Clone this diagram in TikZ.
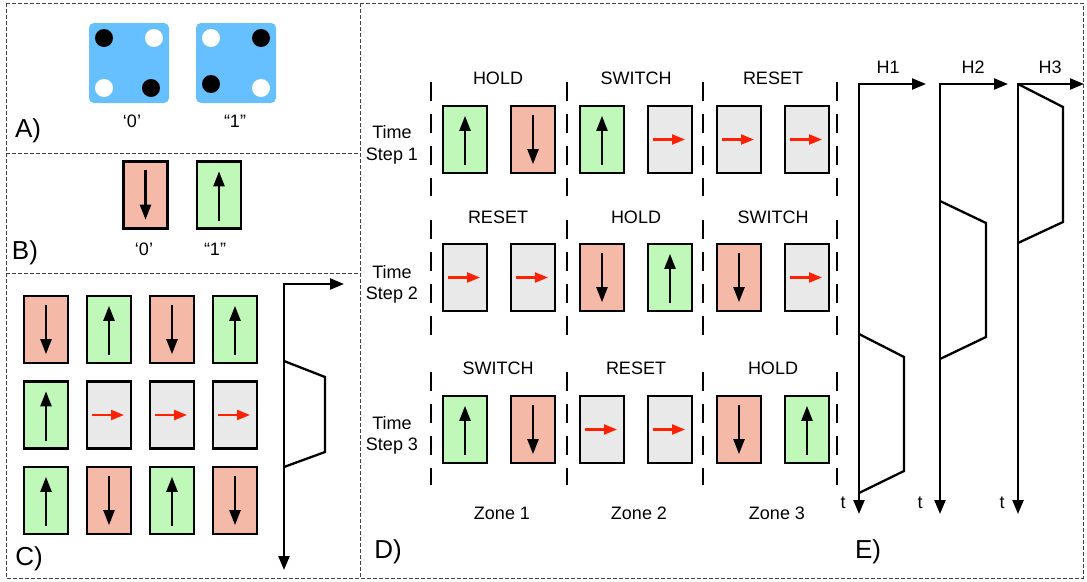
\documentclass[tikz,border=0pt]{standalone}
\usepackage{fontspec}
\setmainfont{Liberation Sans}
\usetikzlibrary{arrows.meta}
\definecolor{cblue}{RGB}{102,191,255}
\definecolor{cred}{RGB}{245,186,167}
\definecolor{cgreen}{RGB}{192,248,186}
\definecolor{cgray}{RGB}{233,233,233}
\definecolor{carrow}{RGB}{255,34,0}
\tikzset{
 cellbox/.style={draw=black,line width=2.3pt,minimum width=44pt,minimum height=67pt,inner sep=0pt},
 blk/.style={line width=2.3pt,-{Triangle[length=15pt,width=11pt]}},
 redarr/.style={draw=carrow,line width=2.2pt,-{Triangle[length=13pt,width=10pt]}},
 zoneline/.style={line width=2.5pt,dash pattern=on 19pt off 13pt},
 axisarr/.style={line width=2.3pt,line join=miter,{Triangle[length=14pt,width=11pt]}-{Triangle[length=14pt,width=11pt]}},
 wave/.style={line width=2.3pt,line join=miter},
 lbl/.style={font=\fontsize{18}{21}\selectfont,inner sep=0pt,anchor=base},
 panel/.style={font=\fontsize{26}{30}\selectfont,inner sep=0pt,anchor=base},
 border/.style={line width=0.8pt,dash pattern=on 4pt off 2pt,draw=black!75},
 die/.style={fill=cblue,rounded corners=5pt,minimum size=80pt,inner sep=0pt},
}
\newcommand\cellU[3]{\node[cellbox,fill=cgreen] (#1) at (#2,#3) {};
 \draw[blk] ([yshift=9pt]#1.south) -- ([yshift=-11pt]#1.north);}
\newcommand\cellD[3]{\node[cellbox,fill=cred] (#1) at (#2,#3) {};
 \draw[blk] ([yshift=-10pt]#1.north) -- ([yshift=10pt]#1.south);}
\newcommand\cellR[3]{\node[cellbox,fill=cgray] (#1) at (#2,#3) {};
 \draw[redarr] ([xshift=-17pt]#1.center) -- ([xshift=15pt]#1.center);}
\begin{document}
\begin{tikzpicture}[x=1pt,y=-1pt]
\useasboundingbox (0,0) rectangle (1087,581);
% borders
\draw[border] (6,3) rectangle (1083,578);
\draw[border] (360,3) -- (360,578);
\draw[border] (6,153) -- (360,153);
\draw[border] (6,273) -- (360,273);
% Panel A
\node[die] (d0) at (129,63) {};
\node[die] (d1) at (236,63) {};
\fill[black] (104,38) circle (9pt);
\fill[white] (154,38) circle (9pt);
\fill[white] (104,88) circle (9pt);
\fill[black] (151,88) circle (9pt);
\fill[white] (211,38) circle (9pt);
\fill[black] (261,38) circle (9pt);
\fill[black] (211,84) circle (9pt);
\fill[white] (261,88) circle (9pt);
\node[lbl] (a0) at (132,127) {‘0’};
\node[lbl] (a1) at (235,127) {“1”};
\node[panel] (pa) at (28,137) {A)};
% Panel B
\cellD{b0}{145.5}{195}
\cellU{b1}{219}{195}
\node[lbl] (bl0) at (144,255) {‘0’};
\node[lbl] (bl1) at (215,255) {“1”};
\node[panel] (pb) at (25,259) {B)};
% Panel C
\cellD{c11}{46}{329.5}
\cellU{c12}{109}{329.5}
\cellD{c13}{172}{329.5}
\cellU{c14}{235}{329.5}
\cellU{c21}{46}{415}
\cellR{c22}{109}{415}
\cellR{c23}{172}{415}
\cellR{c24}{235}{415}
\cellU{c31}{46}{500.5}
\cellD{c32}{109}{500.5}
\cellU{c33}{172}{500.5}
\cellD{c34}{235}{500.5}
\coordinate (co) at (284,284);
\coordinate (cx) at (344,284);
\coordinate (ct) at (284,570);
\draw[axisarr] (cx) -- (co) -- (ct);
\draw[wave] (284,361) -- (325,377) -- (325,452) -- (284,467);
\node[panel] (pc) at (29,565) {C)};
% Panel D dashed zone lines
\foreach \x in {431,567,703,837}{
 \draw[zoneline] (\x,82) -- (\x,196);
 \draw[zoneline] (\x,220) -- (\x,335);
 \draw[zoneline] (\x,372) -- (\x,485);
}
% row 1
\node[lbl] (h11) at (498,84) {HOLD};
\node[lbl] (h12) at (636,84) {SWITCH};
\node[lbl] (h13) at (773,84) {RESET};
\node[lbl] (t1a) at (392,138) {Time};
\node[lbl] (t1b) at (392,160) {Step 1};
\cellU{d11}{465}{139.5}
\cellD{d12}{533}{139.5}
\cellU{d13}{602}{139.5}
\cellR{d14}{670}{139.5}
\cellR{d15}{739}{139.5}
\cellR{d16}{807}{139.5}
% row 2
\node[lbl] (h21) at (498,223) {RESET};
\node[lbl] (h22) at (636,223) {HOLD};
\node[lbl] (h23) at (773,223) {SWITCH};
\node[lbl] (t2a) at (392,278) {Time};
\node[lbl] (t2b) at (392,299) {Step 2};
\cellR{d21}{465}{277.5}
\cellR{d22}{533}{277.5}
\cellD{d23}{602}{277.5}
\cellU{d24}{670}{277.5}
\cellD{d25}{739}{277.5}
\cellR{d26}{807}{277.5}
% row 3
\node[lbl] (h31) at (498,374) {SWITCH};
\node[lbl] (h32) at (636,374) {RESET};
\node[lbl] (h33) at (773,374) {HOLD};
\node[lbl] (t3a) at (392,429) {Time};
\node[lbl] (t3b) at (392,450) {Step 3};
\cellU{d31}{465}{429.5}
\cellD{d32}{533}{429.5}
\cellR{d33}{602}{429.5}
\cellR{d34}{670}{429.5}
\cellD{d35}{739}{429.5}
\cellU{d36}{807}{429.5}
\node[lbl] (z1) at (502,519) {Zone 1};
\node[lbl] (z2) at (639,519) {Zone 2};
\node[lbl] (z3) at (777,519) {Zone 3};
\node[panel] (pd) at (388,558) {D)};
% Panel E
\coordinate (e1o) at (859,84);
\coordinate (e1x) at (926,84);
\coordinate (e1t) at (859,514);
\coordinate (e2o) at (940,84);
\coordinate (e2x) at (1008,84);
\coordinate (e2t) at (940,514);
\coordinate (e3o) at (1018,84);
\coordinate (e3x) at (1084,84);
\coordinate (e3t) at (1018,514);
\draw[axisarr] (e1x) -- (e1o) -- (e1t);
\draw[axisarr] (e2x) -- (e2o) -- (e2t);
\draw[axisarr] (e3x) -- (e3o) -- (e3t);
\draw[wave] (859,334) -- (904,357) -- (904,471) -- (859,493);
\draw[wave] (940,201) -- (986,223) -- (986,337) -- (940,359);
\draw[wave] (1018,84) -- (1063,107) -- (1063,222) -- (1018,243);
\node[lbl] (H1) at (888,73) {H1};
\node[lbl] (H2) at (973,73) {H2};
\node[lbl] (H3) at (1050,73) {H3};
\node[lbl] (tt1) at (843,508) {t};
\node[lbl] (tt2) at (920,508) {t};
\node[lbl] (tt3) at (1002,508) {t};
\node[panel] (pe) at (868,558) {E)};
\end{tikzpicture}
\end{document}
